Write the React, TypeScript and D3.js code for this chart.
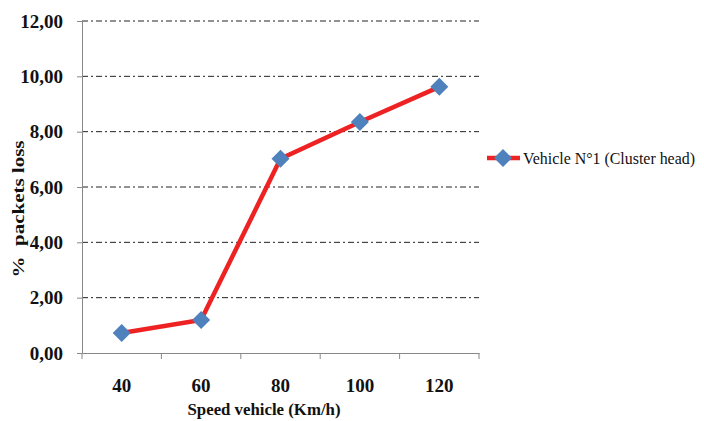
import { useEffect, useRef } from "react";
import * as d3 from "d3";

const speeds = ["40", "60", "80", "100", "120"];
const lossValues = [0.72, 1.19, 7.02, 8.35, 9.62];
const yTicks = [0, 2, 4, 6, 8, 10, 12];
const seriesName = "Vehicle N°1 (Cluster head)";

export default function App() {
  const ref = useRef<HTMLDivElement>(null);

  useEffect(() => {
    if (!ref.current) return;
    const container = ref.current;
    container.innerHTML = "";

    const W = 704;
    const H = 421;
    const left = 82;
    const right = 479;
    const top = 21;
    const bottom = 353;

    const svg = d3
      .select(container)
      .append("svg")
      .attr("width", W)
      .attr("height", H)
      .style("position", "absolute")
      .style("left", "0px")
      .style("top", "0px")
      .style("background", "#fff");

    const x = d3.scaleBand().domain(speeds).range([left, right]);
    const y = d3.scaleLinear().domain([0, 12]).range([bottom, top]);
    const font = "'Liberation Serif', 'DejaVu Serif', serif";

    // gridlines
    svg
      .append("g")
      .selectAll("line")
      .data(yTicks.filter((d) => d > 0))
      .join("line")
      .attr("x1", left)
      .attr("x2", right)
      .attr("y1", (d) => y(d))
      .attr("y2", (d) => y(d))
      .attr("stroke", "#222")
      .attr("stroke-width", 1)
      .attr("stroke-dasharray", "6,3,2,3");

    // y axis
    const yAxis = svg
      .append("g")
      .attr("transform", `translate(${left},0)`)
      .call(
        d3
          .axisLeft(y)
          .tickValues(yTicks)
          .tickSize(5)
          .tickPadding(14)
          .tickFormat((d) => d3.format(".2f")(d as number).replace(".", ","))
      );
    yAxis.select(".domain").attr("stroke", "#888");
    yAxis.selectAll(".tick line").attr("stroke", "#888");
    yAxis
      .selectAll("text")
      .style("font-family", font)
      .style("font-weight", "bold")
      .style("font-size", "19px")
      .attr("fill", "#111");

    // x axis
    const xAxis = svg
      .append("g")
      .attr("transform", `translate(0,${bottom})`)
      .call(d3.axisBottom(x).tickSize(0).tickPadding(26));
    xAxis.select(".domain").attr("stroke", "#888");
    xAxis
      .selectAll("text")
      .style("font-family", font)
      .style("font-weight", "bold")
      .style("font-size", "19px")
      .attr("fill", "#111");
    svg
      .append("g")
      .selectAll("line")
      .data(speeds.concat(["end"]))
      .join("line")
      .attr("x1", (d, i) => left + i * x.bandwidth())
      .attr("x2", (d, i) => left + i * x.bandwidth())
      .attr("y1", bottom)
      .attr("y2", bottom + 6)
      .attr("stroke", "#888");

    // line
    const line = d3
      .line<number>()
      .x((d, i) => (x(speeds[i]) as number) + x.bandwidth() / 2)
      .y((d) => y(d));
    svg
      .append("path")
      .datum(lossValues)
      .attr("fill", "none")
      .attr("stroke", "#ee2222")
      .attr("stroke-width", 4.5)
      .attr("d", line);

    const r = 9;
    const diamond = `M0,${-r}L${r},0L0,${r}L${-r},0Z`;
    svg
      .append("g")
      .selectAll("path")
      .data(lossValues)
      .join("path")
      .attr("d", diamond)
      .attr(
        "transform",
        (d, i) =>
          `translate(${(x(speeds[i]) as number) + x.bandwidth() / 2},${y(d)})`
      )
      .attr("fill", "#4f81bd");

    // axis titles
    svg
      .append("text")
      .attr("x", 264)
      .attr("y", 415)
      .attr("text-anchor", "middle")
      .style("font-family", font)
      .style("font-weight", "bold")
      .style("font-size", "17px")
      .attr("fill", "#111")
      .attr("textLength", 153)
      .attr("lengthAdjust", "spacingAndGlyphs")
      .text("Speed vehicle (Km/h)");
    svg
      .append("text")
      .attr("transform", `translate(24,209) rotate(-90)`)
      .attr("text-anchor", "middle")
      .style("font-family", font)
      .style("font-weight", "bold")
      .style("font-size", "17px")
      .attr("fill", "#111")
      .attr("xml:space", "preserve")
      .attr("textLength", 137)
      .attr("lengthAdjust", "spacingAndGlyphs")
      .text("%  packets loss");

    // legend
    const lg = svg.append("g").attr("transform", "translate(487,158)");
    lg.append("line")
      .attr("x1", 0)
      .attr("x2", 33)
      .attr("stroke", "#ee2222")
      .attr("stroke-width", 4.5);
    lg.append("path")
      .attr("d", diamond)
      .attr("transform", "translate(16,0)")
      .attr("fill", "#4f81bd");
    lg.append("text")
      .attr("x", 36)
      .attr("y", 6)
      .style("font-family", font)
      .style("font-size", "16px")
      .attr("fill", "#111")
      .attr("textLength", 172)
      .attr("lengthAdjust", "spacingAndGlyphs")
      .text(seriesName);

    return () => {
      container.innerHTML = "";
    };
  }, []);

  return <div ref={ref} />;
}
